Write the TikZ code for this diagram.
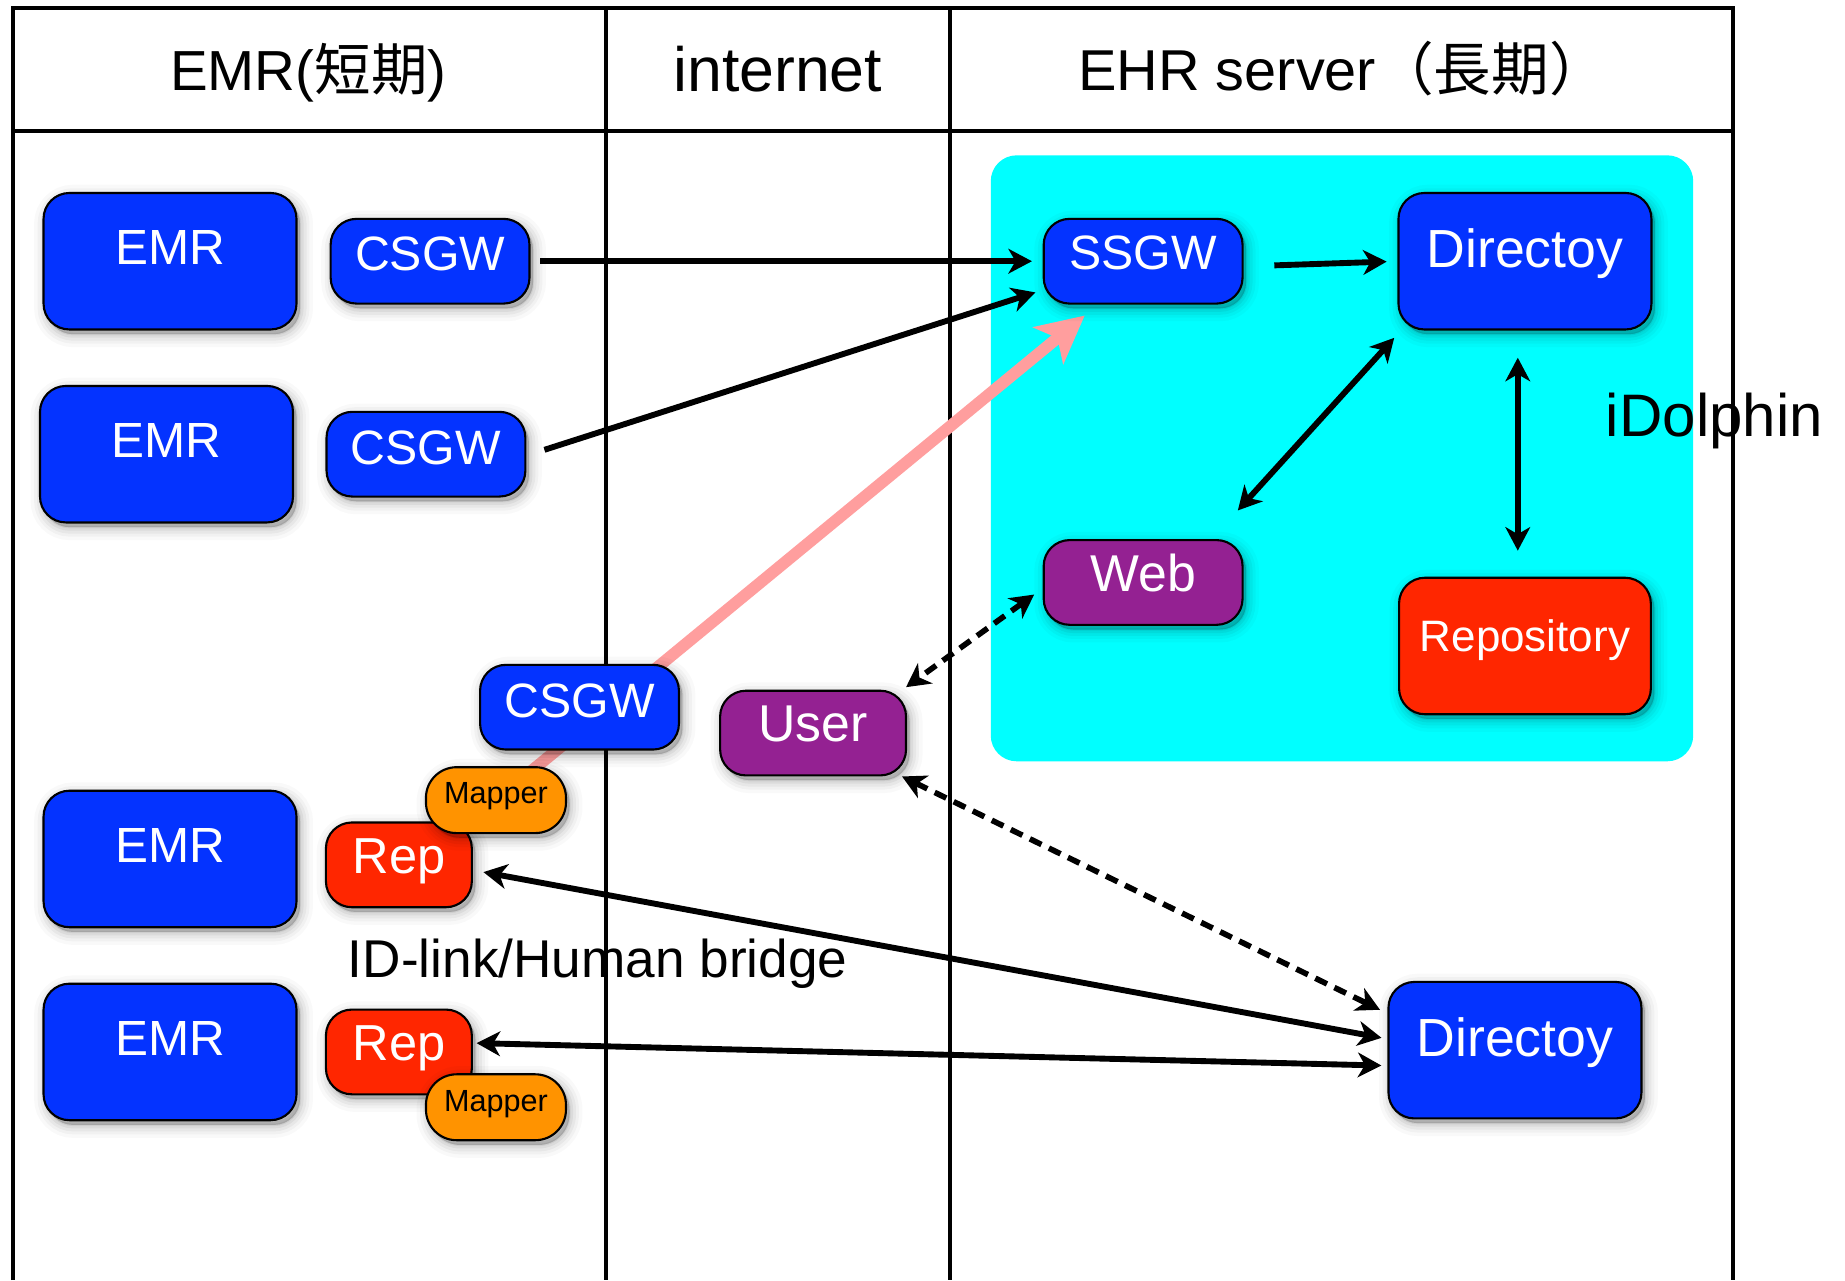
\documentclass[tikz,border=0pt]{standalone}
\usepackage{fontspec}
\setmainfont{Liberation Sans}
\newfontfamily\cjk{Noto Sans CJK JP}
\usetikzlibrary{arrows.meta,shadows}
\pgfdeclarelayer{under}
\pgfsetlayers{under,main}
\newcommand{\lift}[2]{\smash{\raisebox{#1}{#2}}}
\tikzset{
  softshadow/.style={
    general shadow={fill=black,draw=black,opacity=.025,line width=11pt,shadow xshift=1.5pt,shadow yshift=-2pt},
    general shadow={fill=black,draw=black,opacity=.03,line width=8pt,shadow xshift=1.5pt,shadow yshift=-2pt},
    general shadow={fill=black,draw=black,opacity=.04,line width=5.5pt,shadow xshift=1.5pt,shadow yshift=-2pt},
    general shadow={fill=black,draw=black,opacity=.05,line width=3pt,shadow xshift=1.5pt,shadow yshift=-2pt},
    general shadow={fill=black,draw=black,opacity=.06,line width=1pt,shadow xshift=1.5pt,shadow yshift=-2pt}},
  box/.style={softshadow,draw=black,line width=.9pt,rounded corners=11pt,inner sep=0pt,outer sep=0pt,text=white,font=\fontsize{21}{24}\selectfont},
  bluebig/.style={box,fill=emrblue,minimum width=107.5pt,minimum height=58pt},
  bluegw/.style={box,fill=emrblue,minimum width=84.5pt,minimum height=36pt,font=\fontsize{20.5}{24}\selectfont},
  purplegw/.style={box,fill=purp,minimum width=84.5pt,minimum height=36pt,font=\fontsize{22}{24}\selectfont},
  usernode/.style={purplegw,minimum width=79pt},
  redbig/.style={box,fill=repred,minimum width=107pt,minimum height=58pt,font=\fontsize{18.7}{22}\selectfont},
  repnode/.style={box,fill=repred,minimum width=62pt,minimum height=36pt,font=\fontsize{21.5}{24}\selectfont},
  mappernode/.style={box,fill=mapper,text=black,minimum width=59.5pt,minimum height=28pt,rounded corners=13pt,font=\fontsize{13}{15}\selectfont},
  gridline/.style={draw=black,line width=1.7pt},
  headtext/.style={anchor=base,font=\fontsize{24}{28}\selectfont},
  freetext/.style={font=\fontsize{22.6}{26}\selectfont},
  conn/.style={draw=black,line width=2.5pt,{Stealth[length=10pt,width=10.5pt,inset=3pt]}-{Stealth[length=10pt,width=10.5pt,inset=3pt]}},
  connone/.style={draw=black,line width=2.5pt,-{Stealth[length=10pt,width=10.5pt,inset=3pt]}},
  dashconn/.style={conn,line width=2.4pt,dash pattern=on 5.5pt off 3.5pt},
  pinkconn/.style={draw=pinkline,line width=5pt,-{Stealth[length=20pt,width=20pt,inset=5pt]}}
}
\definecolor{emrblue}{HTML}{0433FF}
\definecolor{repred}{HTML}{FF2600}
\definecolor{mapper}{HTML}{FF9300}
\definecolor{purp}{HTML}{942192}
\definecolor{panel}{HTML}{00FFFF}
\definecolor{pinkline}{HTML}{FF9E9E}
\begin{document}
\begin{tikzpicture}[x=.5pt,y=-.5pt]
\useasboundingbox (0,0) rectangle (1568,1088);
\begin{pgfonlayer}{under}
\fill[white] (0,0) rectangle (1568,1088);
% panel
\node[fill=panel,rounded corners=11pt,minimum width=298.5pt,minimum height=257.5pt,inner sep=0pt,outer sep=0pt] (panel) at (1140.5,389.5) {};
% table
\coordinate (tl) at (11,7); \coordinate (tr) at (1473,7);
\coordinate (bl) at (11,1088); \coordinate (br) at (1473,1088);
\coordinate (hl) at (11,111); \coordinate (hr) at (1473,111);
\coordinate (v1t) at (515,7); \coordinate (v1b) at (515,1088);
\coordinate (v2t) at (807,7); \coordinate (v2b) at (807,1088);
\draw[gridline] (bl) -- (tl) -- (tr) -- (br);
\draw[gridline] (hl) -- (hr);
\draw[gridline] (v1t) -- (v1b);
\draw[gridline] (v2t) -- (v2b);
% headers
\node[headtext] (h1) at (262,77) {EMR({\cjk 短期})};
\node[headtext,font=\fontsize{26.6}{28}\selectfont] (h2) at (661,78) {internet};
\node[headtext,font=\fontsize{24.5}{28}\selectfont] (h3) at (1141,77) {EHR server{\cjk （長期）}};
% free labels
\node[freetext] (bridge) at (508,819) {ID-link/Human bridge};
\node[freetext,font=\fontsize{25.5}{28}\selectfont] (idolphin) at (1457,358) {iDolphin};
\end{pgfonlayer}
% nodes
\node[bluebig] (emrA) at (144.5,222) {\lift{-1.5pt}{EMR}};
\node[bluegw] (csgwA) at (365.5,222) {\lift{-4pt}{CSGW}};
\node[bluebig] (emrB) at (141.5,386) {\lift{-1.5pt}{EMR}};
\node[bluegw] (csgwB) at (362,386) {\lift{-4.5pt}{CSGW}};
\node[bluegw] (ssgw) at (971.5,222) {\lift{-3.5pt}{SSGW}};
\node[bluebig,font=\fontsize{22.8}{26}\selectfont] (dirA) at (1296,222) {\lift{-2.5pt}{Directoy}};
\node[purplegw] (web) at (971.5,495) {\lift{-4pt}{Web}};
\node[redbig] (repo) at (1296,549) {\lift{-2.5pt}{Repository}};
\node[bluegw] (csgwC) at (492.5,601) {\lift{-4.5pt}{CSGW}};
\node[usernode] (user) at (691,623) {\lift{-3.5pt}{User}};
\node[repnode] (repA) at (339,735) {\lift{-3.5pt}{Rep}};
\node[mappernode] (mapperA) at (421.5,680) {\lift{-1.5pt}{Mapper}};
\node[bluebig] (emrC) at (144.5,730) {\lift{-1.5pt}{EMR}};
\node[bluebig] (emrD) at (144.5,894) {\lift{-1.5pt}{EMR}};
\node[repnode] (repB) at (339,894) {\lift{-3.5pt}{Rep}};
\node[mappernode] (mapperB) at (421.5,941) {\lift{-2pt}{Mapper}};
\node[bluebig,font=\fontsize{22.8}{26}\selectfont] (dirB) at (1287.5,892.5) {\lift{-2.5pt}{Directoy}};
% pink arrow, behind the nodes
\begin{pgfonlayer}{under}
\draw[pinkconn,shorten >=8pt] (mapperA.center) -- (ssgw.224);
\end{pgfonlayer}
% connectors
\draw[connone,shorten <=4.5pt,shorten >=5pt] (csgwA.east) -- (ssgw.west);
\draw[connone,shorten <=8.5pt,shorten >=3.7pt] (csgwB.-1.3) -- (ssgw.196);
\draw[connone,shorten <=13.5pt,shorten >=5pt] (ssgw.-3) -- (dirA.west);
\draw[conn,shorten <=4.8pt,shorten >=17pt] (dirA.209) -- (web.32);
\draw[conn,shorten <=12pt,shorten >=11.5pt] (dirA.264) -- (repo.96);
\draw[dashconn,shorten <=5pt] (web.183) -- ([yshift=1.5pt]user.north east);
\draw[dashconn,shorten <=1pt,shorten >=4pt] (user.-26) -- (dirB.164.4);
\draw[conn,shorten <=5pt,shorten >=3pt] (repA.-4) -- (dirB.175);
\draw[conn,shorten <=2pt,shorten >=3pt] (repB.7.4) -- (dirB.187.7);
\end{tikzpicture}
\end{document}
